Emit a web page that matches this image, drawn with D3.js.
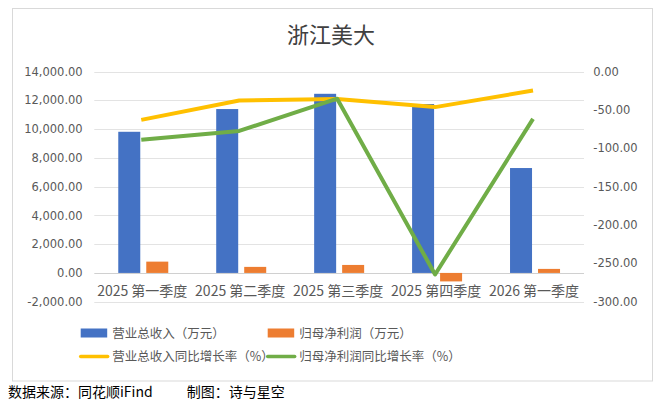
<!DOCTYPE html>
<html><head><meta charset="utf-8">
<script src="https://cdn.jsdelivr.net/npm/d3@7"></script>
<style>body{margin:0;background:#fff}svg{display:block}</style>
</head><body>
<script>
const categories = ["2025 第一季度","2025 第二季度","2025 第三季度","2025 第四季度","2026 第一季度"];
const revenue = [9810, 11390, 12450, 11740, 7290];
const profit = [785, 420, 555, -590, 280];
const revenueYoY = [-63.0, -37.8, -35.8, -46.4, -24.8];
const profitYoY = [-89.0, -77.4, -35.4, -264.5, -61.7];
const leftTicks = [-2000,0,2000,4000,6000,8000,10000,12000,14000];
const rightTicks = [-300,-250,-200,-150,-100,-50,0];
const legendItems = [
  {name:"营业总收入（万元）", type:"bar", color:"#4472C4"},
  {name:"归母净利润（万元）", type:"bar", color:"#ED7D31"},
  {name:"营业总收入同比增长率（%）", type:"line", color:"#FFC000"},
  {name:"归母净利润同比增长率（%）", type:"line", color:"#70AD47"}
];

const W=661,H=405;
const svg=d3.select("body").append("svg").attr("width",W).attr("height",H);
svg.append("rect").attr("width",W).attr("height",H).attr("fill","#fff");
svg.append("rect").attr("x",12.5).attr("y",8.5).attr("width",640).attr("height",372.5)
  .attr("fill","none").attr("stroke","#d9d9d9");

svg.append("text").attr("x",331).attr("y",43).attr("text-anchor","middle")
  .attr("font-family","Noto Sans CJK SC").attr("font-size",22).attr("fill","#404040").text("浙江美大");

const x0=94.3,x1=584,yTop=71.5,yBot=301.7;
const x=d3.scaleBand().domain(categories).range([x0,x1]);
const inner=d3.scaleBand().domain(["rev","profit"]).range([0,50]).paddingInner(6/28);
const yL=d3.scaleLinear().domain([-2000,14000]).range([yBot,yTop]);
const yR=d3.scaleLinear().domain([-300,0]).range([yBot,yTop]);

// gridlines
svg.append("g").selectAll("line").data(leftTicks).join("line")
  .attr("x1",x0).attr("x2",x1).attr("y1",d=>Math.round(yL(d))+0.5).attr("y2",d=>Math.round(yL(d))+0.5)
  .attr("stroke",d=>d===0?"#d0d0d0":"#e3e3e3").attr("stroke-width",1);

// left axis labels
const fmt=d3.format(",.2f");
svg.append("g").selectAll("text").data(leftTicks).join("text")
  .attr("x",82.7).attr("y",d=>yL(d)).attr("dy","0.36em").attr("text-anchor","end")
  .attr("font-family","DejaVu Sans").attr("font-size",11.5).attr("fill","#595959")
  .text(d=>fmt(d).replace("−","-"));
svg.append("g").selectAll("text").data(rightTicks).join("text")
  .attr("x",593.3).attr("y",d=>yR(d)).attr("dy","0.36em").attr("text-anchor","start")
  .attr("font-family","DejaVu Sans").attr("font-size",11.5).attr("fill","#595959")
  .text(d=>d3.format(".2f")(d).replace("−","-"));

// bars
const off=(x.bandwidth()-50)/2;
function bars(data,key,color){
  svg.append("g").selectAll("rect").data(data).join("rect")
    .attr("x",(d,i)=>x(categories[i])+off+inner(key))
    .attr("width",inner.bandwidth())
    .attr("y",d=>Math.min(yL(d),yL(0)))
    .attr("height",d=>Math.abs(yL(d)-yL(0)))
    .attr("fill",color);
}
bars(revenue,"rev","#4472C4");
bars(profit,"profit","#ED7D31");

// category labels
svg.append("g").selectAll("text").data(categories).join("text")
  .attr("x",d=>x(d)+x.bandwidth()/2-1).attr("y",296)
  .attr("text-anchor","middle").attr("font-family","Noto Sans CJK SC").attr("font-size",14)
  .attr("fill","#595959").text(d=>d);

// lines
const cx=i=>x(categories[i])+x.bandwidth()/2-2;
function line(data,color){
  const g=d3.line().x((d,i)=>cx(i)).y(d=>yR(d));
  svg.append("path").datum(data).attr("d",g).attr("fill","none").attr("stroke",color)
    .attr("stroke-width",4).attr("stroke-linejoin","round");
}
line(revenueYoY,"#FFC000");
line(profitYoY,"#70AD47");

// legend
const lx=[80.7,267.7], ly=[333,356.5];
legendItems.forEach((it,i)=>{
  const gx=lx[i%2], gy=ly[Math.floor(i/2)];
  if(it.type==="bar"){
    svg.append("rect").attr("x",gx).attr("y",gy-4.5).attr("width",26.5).attr("height",9).attr("fill",it.color);
  } else {
    svg.append("line").attr("x1",gx).attr("x2",gx+27).attr("y1",gy).attr("y2",gy)
      .attr("stroke",it.color).attr("stroke-width",3.5).attr("stroke-linecap","round");
  }
  svg.append("text").attr("x",gx+31.5).attr("y",gy).attr("dy","0.36em")
    .attr("font-family","Noto Sans CJK SC").attr("font-size",12.5).attr("fill","#595959").text(it.name);
});

// footer
svg.append("text").attr("x",8).attr("y",392).attr("dy","0.36em")
  .attr("font-family","Noto Sans CJK SC").attr("font-size",14).attr("fill","#000").text("数据来源：同花顺iFind");
svg.append("text").attr("x",186.7).attr("y",392).attr("dy","0.36em")
  .attr("font-family","Noto Sans CJK SC").attr("font-size",14).attr("fill","#000").text("制图：诗与星空");
</script>
</body></html>
